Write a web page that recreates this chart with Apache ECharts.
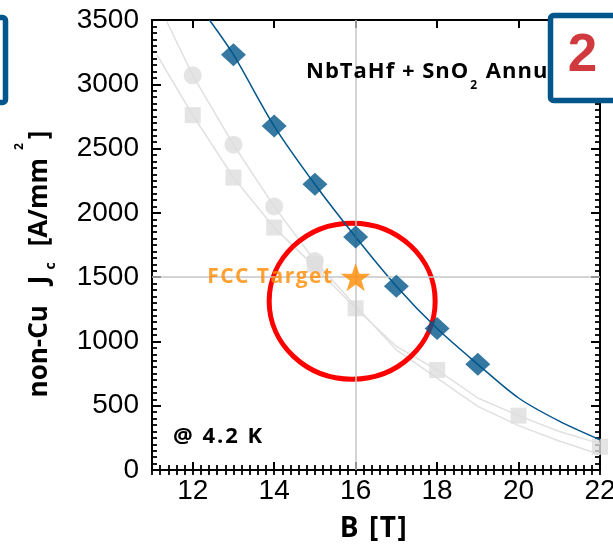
<!DOCTYPE html>
<html>
<head>
<meta charset="utf-8">
<script src="https://cdn.jsdelivr.net/npm/echarts@6/dist/echarts.min.js"></script>
<style>html,body{margin:0;padding:0;background:#fff;}#c{width:613px;height:548px;}</style>
</head>
<body>
<div id="c"></div>
<script>
// ---- data ----
const xTickLabels = [12, 14, 16, 18, 20, 22];
const diamondB  = [13, 14, 15, 16, 17, 18, 19];
const diamondJc = [3230, 2675, 2222, 1812, 1430, 1100, 822];
const circleB  = [12, 13, 14, 15];
const circleJc = [3070, 2530, 2050, 1625];
const squareB  = [12, 13, 14, 15, 16, 18, 20, 22];
const squareJc = [2760, 2275, 1885, 1600, 1258, 778, 423, 181];
const blueFitB  = [12.41, 13, 14, 15, 16, 17, 18, 19, 20, 21, 22];
const blueFitJc = [3500, 3230, 2675, 2222, 1812, 1430, 1100, 822, 560, 380, 235];
const circleFitB  = [11.36, 12, 13, 14, 15, 16, 17, 18, 19, 20, 21, 22];
const circleFitJc = [3490, 3070, 2530, 2050, 1625, 1275, 935, 715, 495, 345, 225, 120];
const squareFitB  = [11.12, 12, 13, 14, 15, 16, 17, 18, 19, 20, 21, 22];
const squareFitJc = [3228, 2760, 2275, 1885, 1580, 1258, 962, 778, 560, 423, 300, 205];
const targetB = [16];
const targetJc = [1500];
const circleCenter = [15.915, 1313];

const pairs = (a, b) => a.map((v, i) => [v, b[i]]);
const spaced = (str, st) => str.split('').map(ch => '{' + st + '|' + ch + '}').join('');

const BLUE = '#03568A';
const GRAY_M = '#dddddd';
const GRAY_L = '#e0e0e0';
const ORANGE = '#FF8A00';
const TICK = '#000000';
const STAR = 'path://M50,0 L61.8,35.1 L98.1,35.1 L68.8,56.7 L79.4,91.9 L50,70.5 L20.6,91.9 L31.2,56.7 L1.9,35.1 L38.2,35.1 Z';

const chart = echarts.init(document.getElementById('c'), null, {renderer: 'canvas'});

function xAx(pos, major, labels) {
  const base = {type: 'value', min: 11, max: 22, position: pos, gridIndex: 0,
    splitLine: {show: false}};
  if (major) {
    return Object.assign(base, {
      axisLine: {show: true, onZero: false, lineStyle: {color: '#000', width: 2}},
      axisTick: {show: true, inside: true, length: 8, customValues: xTickLabels, lineStyle: {color: TICK, width: 2}},
      axisLabel: labels ? {show: true, customValues: xTickLabels, fontFamily: 'Liberation Sans', fontSize: 28, color: '#000', margin: 7} : {show: false}
    });
  }
  return Object.assign(base, {
    interval: 0.2,
    axisLine: {show: false},
    axisTick: {show: true, inside: true, length: 5, lineStyle: {color: TICK, width: 1.8}},
    axisLabel: {show: false}
  });
}
function yAx(pos, labels) {
  return {type: 'value', min: 0, max: 3500, interval: 500, position: pos, gridIndex: 0,
    splitLine: {show: false},
    axisLine: {show: true, onZero: false, lineStyle: {color: '#000', width: 2}},
    axisTick: {show: true, inside: true, length: 9, lineStyle: {color: TICK, width: 2}},
    minorTick: {show: true, splitNumber: 10, length: 5, lineStyle: {color: TICK, width: 1.8}},
    axisLabel: labels ? {show: true, fontFamily: 'Liberation Sans', fontSize: 28, color: '#000', margin: 13,
      formatter: v => String(v)} : {show: false}
  };
}

const option = {
  animation: false,
  backgroundColor: '#fff',
  grid: {left: 152, top: 20, right: 13, bottom: 78, containLabel: false, outerBoundsMode: 'none'},
  xAxis: [xAx('bottom', true, true), xAx('bottom', false), xAx('top', true, false), xAx('top', false)],
  yAxis: [yAx('left', true), yAx('right', false)],
  series: [
    {type: 'line', data: [], z: 1, silent: true,
      markLine: {silent: true, symbol: ['none', 'none'], label: {show: false}, animation: false,
        lineStyle: {color: '#c6c6c6', width: 1.5, type: 'solid'}, emphasis: {disabled: true},
        data: [{xAxis: targetB[0]}, {yAxis: targetJc[0]}]}},
    {type: 'line', data: pairs(circleFitB, circleFitJc), showSymbol: false, z: 2, silent: true,
      lineStyle: {color: GRAY_L, width: 1.5}},
    {type: 'line', data: pairs(squareFitB, squareFitJc), showSymbol: false, z: 2, silent: true,
      lineStyle: {color: GRAY_L, width: 1.5}},
    {type: 'scatter', data: pairs(squareB, squareJc), symbol: 'rect', symbolSize: 16, z: 3, silent: true,
      itemStyle: {color: GRAY_M}},
    {type: 'scatter', data: pairs(circleB, circleJc), symbol: 'circle', symbolSize: 18, z: 3, silent: true,
      itemStyle: {color: GRAY_M}},
    {type: 'line', data: pairs(blueFitB, blueFitJc), showSymbol: false, smooth: 0.3, z: 4, silent: true,
      lineStyle: {color: BLUE, width: 1.5}},
    {type: 'scatter', data: pairs(diamondB, diamondJc), symbol: 'diamond', symbolSize: [25, 23], z: 5, silent: true,
      itemStyle: {color: BLUE}},
    {type: 'scatter', data: pairs(targetB, targetJc), symbol: STAR, symbolSize: [30, 28], z: 6, silent: true,
      itemStyle: {color: ORANGE},
      label: {show: true, position: 'left', distance: 7,
        formatter: spaced('FCC Target', 'o'),
        rich: {o: {fontFamily: 'Open Sans', fontWeight: 'bold', fontSize: 21, color: ORANGE, padding: [0, 1.5, 0, 0]}}}}
  ]
};
chart.setOption(option);

const ctr = chart.convertToPixel({xAxisIndex: 0, yAxisIndex: 0}, circleCenter);

const mainT = {fontFamily: 'Open Sans', fontWeight: 'bold', fontSize: 22, fill: '#000', lineHeight: 40, verticalAlign: 'middle', padding: [0, 1, 0, 0]};
const yBase = {fontFamily: 'Open Sans', fontWeight: 'bold', fontSize: 26, fill: '#000', lineHeight: 52, verticalAlign: 'middle'};

chart.setOption({
  graphic: [
    {type: 'ellipse', z: 4, silent: true, shape: {cx: ctr[0], cy: ctr[1], rx: 83, ry: 78},
      style: {fill: 'none', stroke: '#FF0000', lineWidth: 5}},
    {type: 'text', z: 10, silent: true, x: 306, y: 71.5,
      style: {text: spaced('NbTaHf + SnO', 't') + '{s|2}' + spaced(' Annu', 't'),
        align: 'left', verticalAlign: 'middle', textAlign: 'left', textVerticalAlign: 'middle',
        rich: {t: mainT,
          s: {fontFamily: 'Open Sans', fontWeight: 'bold', fontSize: 12, fill: '#000', lineHeight: 12, verticalAlign: 'bottom', padding: [0, 2, 0, 1]}}}},
    {type: 'text', z: 10, silent: true, x: 173, y: 436.5,
      style: {text: spaced('@ 4.2 K', 'a'), align: 'left', verticalAlign: 'middle', textAlign: 'left', textVerticalAlign: 'middle',
        rich: {a: {fontFamily: 'Open Sans', fontWeight: 'bold', fontSize: 22, fill: '#000', padding: [0, 2, 0, 0]}}}},
    {type: 'text', z: 10, silent: true, x: 374, y: 529,
      style: {text: spaced('B [T]', 'b'), align: 'center', verticalAlign: 'middle', textAlign: 'center', textVerticalAlign: 'middle',
        rich: {b: {fontFamily: 'Open Sans', fontWeight: 'bold', fontSize: 28, fill: '#000', padding: [0, 1.5, 0, 0]}}}},
    {type: 'text', z: 10, silent: true, x: 40, y: 264, rotation: Math.PI / 2,
      style: {text: '{m|non-Cu}{j|J}{c|c}{k|[A/mm}{p|2}{m|]}',
        align: 'center', verticalAlign: 'middle', textAlign: 'center', textVerticalAlign: 'middle',
        rich: {
          m: yBase,
          j: Object.assign({}, yBase, {padding: [0, 0, 0, 21]}),
          k: Object.assign({}, yBase, {padding: [0, 0, 0, 16]}),
          c: {fontFamily: 'Open Sans', fontWeight: 'bold', fontSize: 14, fill: '#000', verticalAlign: 'middle', padding: [22, 0, 0, 6]},
          p: {fontFamily: 'Open Sans', fontWeight: 'bold', fontSize: 12, fill: '#000', verticalAlign: 'top', padding: [0, 4, 0, 8]}
        }}},
    {type: 'rect', z: 20, silent: true, shape: {x: 550.5, y: 15.5, width: 100, height: 85, r: 3},
      style: {fill: '#fff', stroke: BLUE, lineWidth: 5.5}},
    {type: 'text', z: 21, silent: true, x: 582.5, y: 56.5,
      style: {text: '2', font: 'bold 53px "Liberation Sans"', fill: '#D03A3E',
        align: 'center', verticalAlign: 'middle', textAlign: 'center', textVerticalAlign: 'middle'}},
    {type: 'rect', z: 20, silent: true, shape: {x: -100, y: 17.5, width: 105.5, height: 85, r: 3},
      style: {fill: 'none', stroke: BLUE, lineWidth: 5.5}}
  ]
});
</script>
</body>
</html>
